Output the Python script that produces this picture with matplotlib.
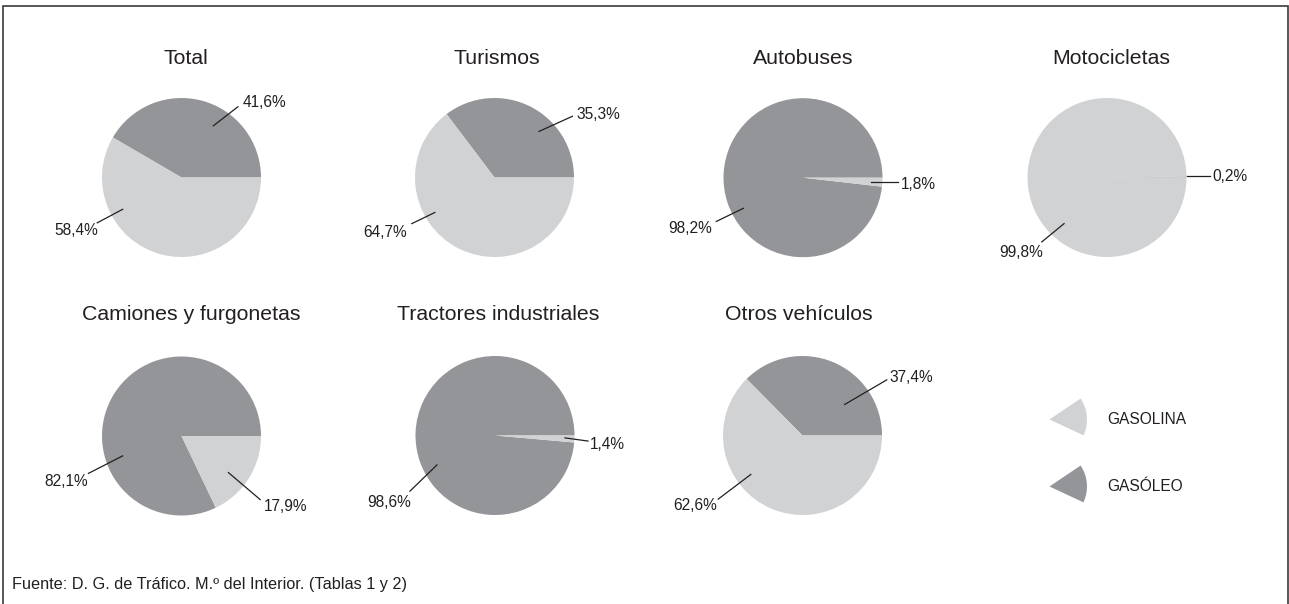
import matplotlib
matplotlib.use("Agg")
import matplotlib.pyplot as plt
from matplotlib.patches import Wedge, Rectangle
from matplotlib.lines import Line2D

# ---- data -------------------------------------------------------------
categories = ["Total", "Turismos", "Autobuses", "Motocicletas",
              "Camiones y furgonetas", "Tractores industriales", "Otros vehículos"]
gasoleo = [41.6, 35.3, 98.2, 0.2, 82.1, 98.6, 37.4]
gasolina = [58.4, 64.7, 1.8, 99.8, 17.9, 1.4, 62.6]
fuel_names = ["GASOLINA", "GASÓLEO"]
source_note = "Fuente: D. G. de Tráfico. M.º del Interior. (Tablas 1 y 2)"

# ---- style / layout ---------------------------------------------------
W, H = 1289, 604
LIGHT = "#d1d2d4"
DARK = "#939598"
INK = "#231f20"
R = 79.5

plt.rcParams["font.family"] = ["Liberation Sans", "DejaVu Sans"]

# pie centres in pixels (x from left, y from top)
centres = [(181.5, 177.5), (494.5, 177.5), (803, 177.7), (1107, 177.5),
           (181.5, 436), (495, 435.5), (802.5, 435.5)]
title_x = [185.5, 496.5, 803.5, 1111, 191.5, 498.5, 799]
title_y = [58, 58, 58, 58, 314.5, 314.5, 314.5]

# label leader lines, in units of the radius (y up):
# (inner point, outer point, text anchor, horizontal alignment)
lab_gasoleo = [
    ((0.40, 0.65), (0.71, 0.89), (0.77, 0.94), "left"),
    ((0.56, 0.58), (0.98, 0.77), (1.03, 0.79), "left"),
    ((-0.75, -0.385), (-1.09, -0.55), (-1.15, -0.645), "right"),
    ((1.0, 0.02), (1.30, 0.02), (1.32, 0.01), "left"),
    ((-0.74, -0.25), (-1.17, -0.47), (-1.18, -0.575), "right"),
    ((-0.73, -0.37), (-1.07, -0.70), (-1.06, -0.84), "right"),
    ((0.53, 0.39), (1.06, 0.70), (1.09, 0.73), "left"),
]
lab_gasolina = [
    ((-0.74, -0.40), (-1.06, -0.57), (-1.05, -0.67), "right"),
    ((-0.75, -0.44), (-1.04, -0.58), (-1.10, -0.69), "right"),
    ((0.86, -0.05), (1.20, -0.05), (1.23, -0.08), "left"),
    ((-0.54, -0.58), (-0.82, -0.81), (-0.80, -0.94), "right"),
    ((0.59, -0.46), (0.99, -0.80), (1.04, -0.89), "left"),
    ((0.88, -0.03), (1.17, -0.07), (1.195, -0.11), "left"),
    ((-0.65, -0.49), (-1.06, -0.80), (-1.08, -0.88), "right"),
]


def fmt(v):
    return f"{v:.1f}".replace(".", ",") + "%"


fig = plt.figure(figsize=(W / 100, H / 100), dpi=100)
fig.patch.set_facecolor("white")
ax = fig.add_axes([0, 0, 1, 1])

for i, name in enumerate(categories):
    cx, cy = centres[i]
    cy = H - cy
    ax.pie([gasoleo[i], gasolina[i]], colors=[DARK, LIGHT], startangle=0,
           counterclock=True, center=(cx, cy), radius=R,
           wedgeprops=dict(linewidth=0), normalize=True)
    ax.text(title_x[i], H - title_y[i], name, ha="center", va="center",
            fontsize=15.3, color=INK)
    for val, (p_in, p_out, p_txt, ha) in ((gasoleo[i], lab_gasoleo[i]),
                                          (gasolina[i], lab_gasolina[i])):
        ax.add_line(Line2D([cx + R * p_in[0], cx + R * p_out[0]],
                           [cy + R * p_in[1], cy + R * p_out[1]],
                           color=INK, lw=0.9))
        ax.text(cx + R * p_txt[0], cy + R * p_txt[1], fmt(val), ha=ha,
                va="center", fontsize=11.2, color=INK)

# legend: small wedges with fuel names
legend_y = [419.5, 486.5]
for name, col, ly in zip(fuel_names, [LIGHT, DARK], legend_y):
    ax.add_patch(Wedge((1049.5, H - ly), 37.5, -25, 34, facecolor=col,
                       edgecolor="none"))
    ax.text(1107.5, H - ly, name, ha="left", va="center", fontsize=11.2,
            color=INK)

# source note
ax.text(12, H - 584, source_note, ha="left", va="center", fontsize=11.7,
        color=INK)

# outer frame (open at the bottom edge)
ax.add_patch(Rectangle((2.5, -10), 1285, H - 5.5 + 10, facecolor="none",
                       edgecolor="#3a3a3a", lw=1.2))

ax.set_xlim(0, W)
ax.set_ylim(0, H)
ax.set_aspect("auto")
ax.axis("off")

fig.savefig("out.png", dpi=100, facecolor="white")
